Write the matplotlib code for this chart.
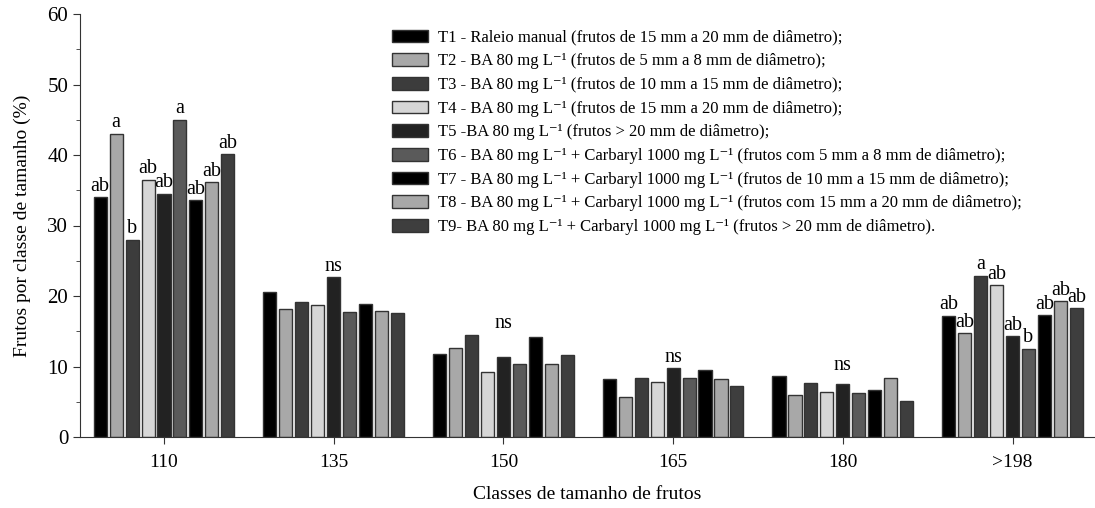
import numpy as np
import matplotlib.pyplot as plt
from matplotlib.ticker import MultipleLocator

plt.rcParams['font.family'] = ['Liberation Serif', 'DejaVu Serif']
plt.rcParams['axes.unicode_minus'] = False

# classes de tamanho
classes = ['110', '135', '150', '165', '180', '>198']

# valores por tratamento (T1..T9), um valor por classe
T1 = [34.0, 20.6, 11.8, 8.2, 8.6, 17.2]
T2 = [43.0, 18.2, 12.6, 5.7, 5.9, 14.7]
T3 = [28.0, 19.1, 14.5, 8.3, 7.6, 22.9]
T4 = [36.5, 18.7, 9.2, 7.8, 6.4, 21.5]
T5 = [34.5, 22.7, 11.3, 9.8, 7.5, 14.3]
T6 = [45.0, 17.7, 10.4, 8.3, 6.3, 12.5]
T7 = [33.6, 18.9, 14.2, 9.5, 6.6, 17.3]
T8 = [36.1, 17.9, 10.3, 8.2, 8.4, 19.3]
T9 = [40.1, 17.6, 11.7, 7.2, 5.1, 18.3]

sup = '\u207b\u00b9'
labels = [
    'T1 - Raleio manual (frutos de 15 mm a 20 mm de diâmetro);',
    'T2 - BA 80 mg L' + sup + ' (frutos de 5 mm a 8 mm de diâmetro);',
    'T3 - BA 80 mg L' + sup + ' (frutos de 10 mm a 15 mm de diâmetro);',
    'T4 - BA 80 mg L' + sup + ' (frutos de 15 mm a 20 mm de diâmetro);',
    'T5 -BA 80 mg L' + sup + ' (frutos > 20 mm de diâmetro);',
    'T6 - BA 80 mg L' + sup + ' + Carbaryl 1000 mg L' + sup + ' (frutos com 5 mm a 8 mm de diâmetro);',
    'T7 - BA 80 mg L' + sup + ' + Carbaryl 1000 mg L' + sup + ' (frutos de 10 mm a 15 mm de diâmetro);',
    'T8 - BA 80 mg L' + sup + ' + Carbaryl 1000 mg L' + sup + ' (frutos com 15 mm a 20 mm de diâmetro);',
    'T9- BA 80 mg L' + sup + ' + Carbaryl 1000 mg L' + sup + ' (frutos > 20 mm de diâmetro).',
]
colors = ['#000000', '#a8a8a8', '#3c3c3c', '#d6d6d6', '#222222',
          '#5a5a5a', '#000000', '#a8a8a8', '#3e3e3e']

# letras de significancia
letras_110 = ['ab', 'a', 'b', 'ab', 'ab', 'a', 'ab', 'ab', 'ab']
letras_198 = ['ab', 'ab', 'a', 'ab', 'ab', 'b', 'ab', 'ab', 'ab']

series = [T1, T2, T3, T4, T5, T6, T7, T8, T9]

fig = plt.figure(figsize=(10.95, 5.08), dpi=100)
ax = fig.add_axes([80 / 1095, 71 / 508, 1014 / 1095, 423 / 508])

x = np.arange(len(classes))
step = 0.094
width = 0.077
bars = []
for k, vals in enumerate(series):
    b = ax.bar(x + (k - 4) * step, vals, width, color=colors[k],
               edgecolor='#333333', linewidth=1.0, label=labels[k])
    bars.append(b)

for k in range(9):
    r = bars[k][0]
    ax.text(r.get_x() + r.get_width() / 2, r.get_height() + 0.2, letras_110[k],
            ha='center', va='bottom', fontsize=14.5)
    r = bars[k][5]
    ax.text(r.get_x() + r.get_width() / 2, r.get_height() + 0.2, letras_198[k],
            ha='center', va='bottom', fontsize=14.5)

for g in range(1, 5):
    top = max(s[g] for s in series)
    ax.text(x[g], top + 0.2, 'ns', ha='center', va='bottom', fontsize=14.5)

ax.set_xlim(-0.495, 5.48)
ax.set_ylim(0, 60)
ax.set_xticks(x)
ax.set_xticklabels(classes, fontsize=14)
ax.yaxis.set_major_locator(MultipleLocator(10))
ax.yaxis.set_minor_locator(MultipleLocator(5))
ax.tick_params(axis='y', labelsize=15, length=5, color='#333333')
ax.tick_params(axis='y', which='minor', length=3, color='#333333')
ax.tick_params(axis='x', length=5, color='#333333', pad=7)
for s in ['top', 'right']:
    ax.spines[s].set_visible(False)
for s in ['left', 'bottom']:
    ax.spines[s].set_color('#333333')

ax.set_ylabel('Frutos por classe de tamanho (%)', fontsize=14, labelpad=12)
ax.set_xlabel('Classes de tamanho de frutos', fontsize=14, labelpad=11)

fig.legend(loc='upper left', bbox_to_anchor=(385 / 1095, 1 - 23 / 508),
           frameon=False, fontsize=12, handlelength=2.2, handleheight=0.8,
           labelspacing=0.45, handletextpad=0.55, borderaxespad=0)

fig.savefig('out.png', dpi=100)
